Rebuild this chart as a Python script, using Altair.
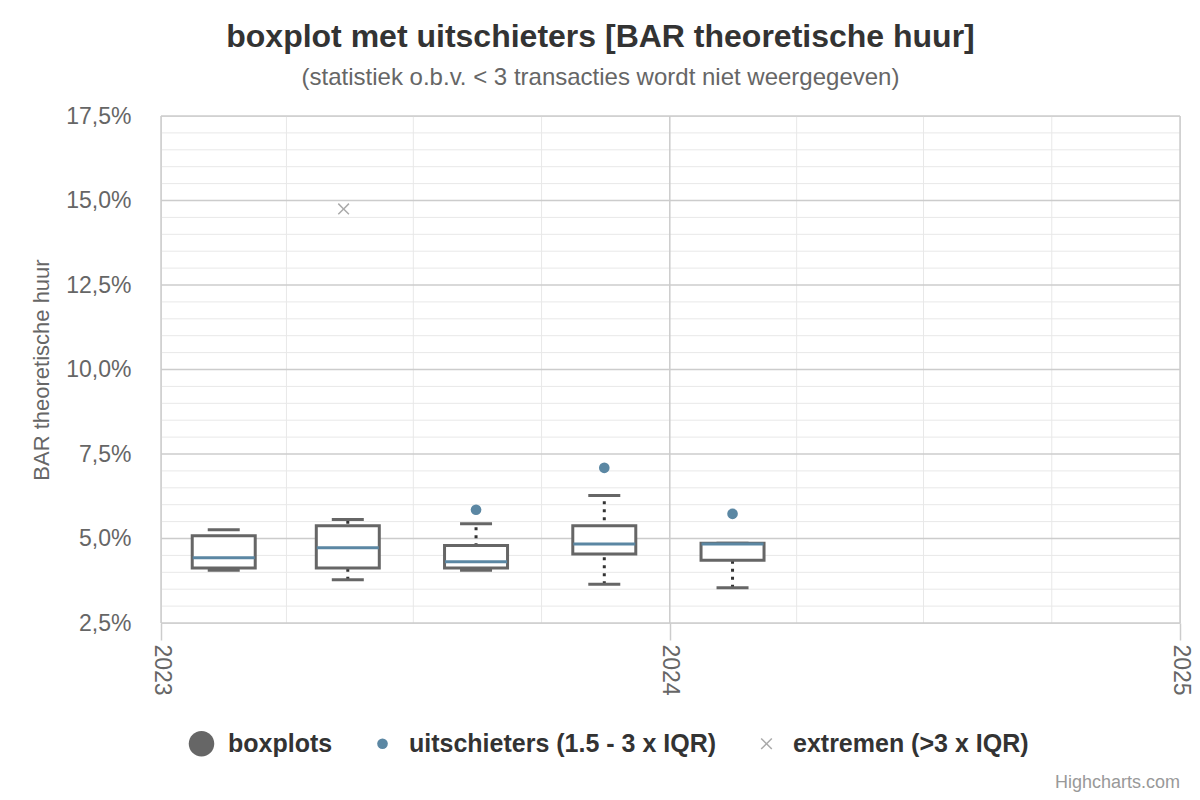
import altair as alt
import pandas as pd

# ---- data ----
quarters = ["2023-02-15T00:00:00", "2023-05-15T00:00:00", "2023-08-15T00:00:00",
            "2023-11-15T00:00:00", "2024-02-15T00:00:00"]
whisker_low = [4.06, 3.78, 4.06, 3.65, 3.54]
q1 = [4.13, 4.13, 4.13, 4.54, 4.36]
median = [4.43, 4.73, 4.31, 4.84, 4.84]
q3 = [5.08, 5.38, 4.79, 5.38, 4.86]
whisker_high = [5.26, 5.56, 5.44, 6.27, 4.86]

outlier_dates = ["2023-08-15T00:00:00", "2023-11-15T00:00:00", "2024-02-15T00:00:00"]
outlier_values = [5.85, 7.09, 5.73]
extreme_dates = ["2023-05-12T00:00:00"]
extreme_values = [14.75]

series_names = ["boxplots", "uitschieters (1.5 - 3 x IQR)", "extremen (>3 x IQR)"]
series_colors = ["#666666", "#5b87a3", "#aaaaaa"]

FONT = "Liberation Sans"

box_df = pd.DataFrame({"date": quarters, "lo": whisker_low, "q1": q1,
                       "median": median, "q3": q3, "hi": whisker_high})
points_df = pd.concat([
    pd.DataFrame({"date": outlier_dates, "value": outlier_values, "series": series_names[1]}),
    pd.DataFrame({"date": extreme_dates, "value": extreme_values, "series": series_names[2]}),
])

x_scale = alt.Scale(domain=[alt.DateTime(year=2023, month=1, date=1),
                            alt.DateTime(year=2025, month=1, date=1)], nice=False, padding=0)
y_scale = alt.Scale(domain=[2.5, 17.5], nice=False, zero=False, padding=0)

x_axis = alt.Axis(
    values=[alt.DateTime(year=2023, month=1, date=1), alt.DateTime(year=2024, month=1, date=1),
            alt.DateTime(year=2025, month=1, date=1)],
    format="%Y", labelAngle=90, labelFontSize=23, labelColor="#666666", labelFont=FONT,
    tickSize=17, tickColor="#cccccc", tickWidth=1.5, domain=False, grid=False,
    labelPadding=4, title=None,
)
y_axis = alt.Axis(
    values=[2.5, 5, 7.5, 10, 12.5, 15, 17.5],
    labelExpr="replace(format(datum.value, '.1f'), '.', ',') + '%'",
    labelFontSize=23, labelColor="#666666", labelFont=FONT, labelPadding=30,
    ticks=False, domain=False, grid=False,
    title="BAR theoretische huur", titleFontSize=22, titleColor="#666666",
    titleFontWeight="normal", titleFont=FONT, titlePadding=12,
)

X = alt.X("date:T", scale=x_scale, axis=x_axis)
Y = lambda f: alt.Y(f"{f}:Q", scale=y_scale, axis=y_axis)

# grid lines (generated)
y_minor = alt.Chart(alt.sequence(3, 17.5, 0.5, as_="value")).transform_filter(
    "round(datum.value*2) % 5 != 0").mark_rule(color="#e8e8e8", strokeWidth=1).encode(y=Y("value"))
x_minor = alt.Chart(alt.sequence(1, 8, as_="i")).transform_filter("datum.i % 4 != 0").transform_calculate(
    date="datetime(2023 + floor(datum.i/4), (datum.i % 4)*3, 1)").mark_rule(
    color="#e8e8e8", strokeWidth=1).encode(x=X)
y_major = alt.Chart(alt.sequence(2.5, 17.6, 2.5, as_="value")).mark_rule(
    color="#cccccc", strokeWidth=1.5).encode(y=Y("value"))
x_major = alt.Chart(alt.sequence(0, 3, as_="i")).transform_calculate(
    date="datetime(2023 + datum.i, 0, 1)").mark_rule(color="#cccccc", strokeWidth=1.5).encode(x=X)

base = alt.Chart(box_df)
stems = base.mark_rule(color="#333333", strokeWidth=3, strokeDash=[3, 5]).encode(x=X, y=Y("lo"), y2="hi:Q")
boxes = base.mark_bar(fill="white", stroke="#666666", strokeWidth=3, size=63).encode(x=X, y=Y("q1"), y2="q3:Q")
caps_lo = base.mark_tick(orient="horizontal", color="#666666", size=32, thickness=3, opacity=1).encode(x=X, y=Y("lo"))
caps_hi = base.mark_tick(orient="horizontal", color="#666666", size=32, thickness=3, opacity=1).encode(x=X, y=Y("hi"))
medians = base.mark_tick(orient="horizontal", color="#5b87a3", size=62, thickness=3, opacity=1).encode(x=X, y=Y("median"))

big_circle = "M-2.4,0A2.4,2.4 0 1,0 2.4,0A2.4,2.4 0 1,0 -2.4,0Z"
xpath = "M-1.1,-0.9L-0.9,-1.1L0,-0.2L0.9,-1.1L1.1,-0.9L0.2,0L1.1,0.9L0.9,1.1L0,0.2L-0.9,1.1L-1.1,0.9L-0.2,0Z"
legend = alt.Legend(title=None, orient="none", legendX=28, legendY=615, direction="horizontal",
                    labelFontSize=25, labelFontWeight="bold", labelColor="#333333", labelFont=FONT,
                    labelOffset=14, columnPadding=37, symbolStrokeWidth=0, symbolSize=113,
                    labelLimit=600)
points = alt.Chart(points_df).mark_point(filled=True, opacity=1, size=113).encode(
    x=X, y=Y("value"),
    color=alt.Color("series:N", scale=alt.Scale(domain=series_names, range=series_colors), legend=legend),
    shape=alt.Shape("series:N", scale=alt.Scale(domain=series_names, range=[big_circle, "circle", xpath]), legend=legend),
)

credit = alt.Chart(pd.DataFrame({"t": ["Highcharts.com"]})).mark_text(
    align="right", baseline="middle", fontSize=18, color="#999999", font=FONT).encode(
    text="t:N", x=alt.value(1019), y=alt.value(667))

chart = alt.layer(y_minor, x_minor, y_major, x_major, stems, boxes, caps_lo, caps_hi, medians, points, credit).properties(
    width=1019, height=507,
    autosize=alt.AutoSizeParams(type="none"),
    padding={"left": 153, "top": 108, "right": 12, "bottom": 169},
    title=alt.TitleParams(
        text="boxplot met uitschieters [BAR theoretische huur]",
        subtitle="(statistiek o.b.v. < 3 transacties wordt niet weergegeven)",
        fontSize=32, fontWeight="bold", color="#333333", font=FONT,
        subtitleFontSize=24, subtitleColor="#666666", subtitleFont=FONT,
        anchor="middle", frame="group", dx=-70, offset=14, subtitlePadding=12,
    ),
).configure_view(stroke=None).configure(font=FONT)

chart.save("out.html", embed_options={"renderer": "svg", "actions": False})
